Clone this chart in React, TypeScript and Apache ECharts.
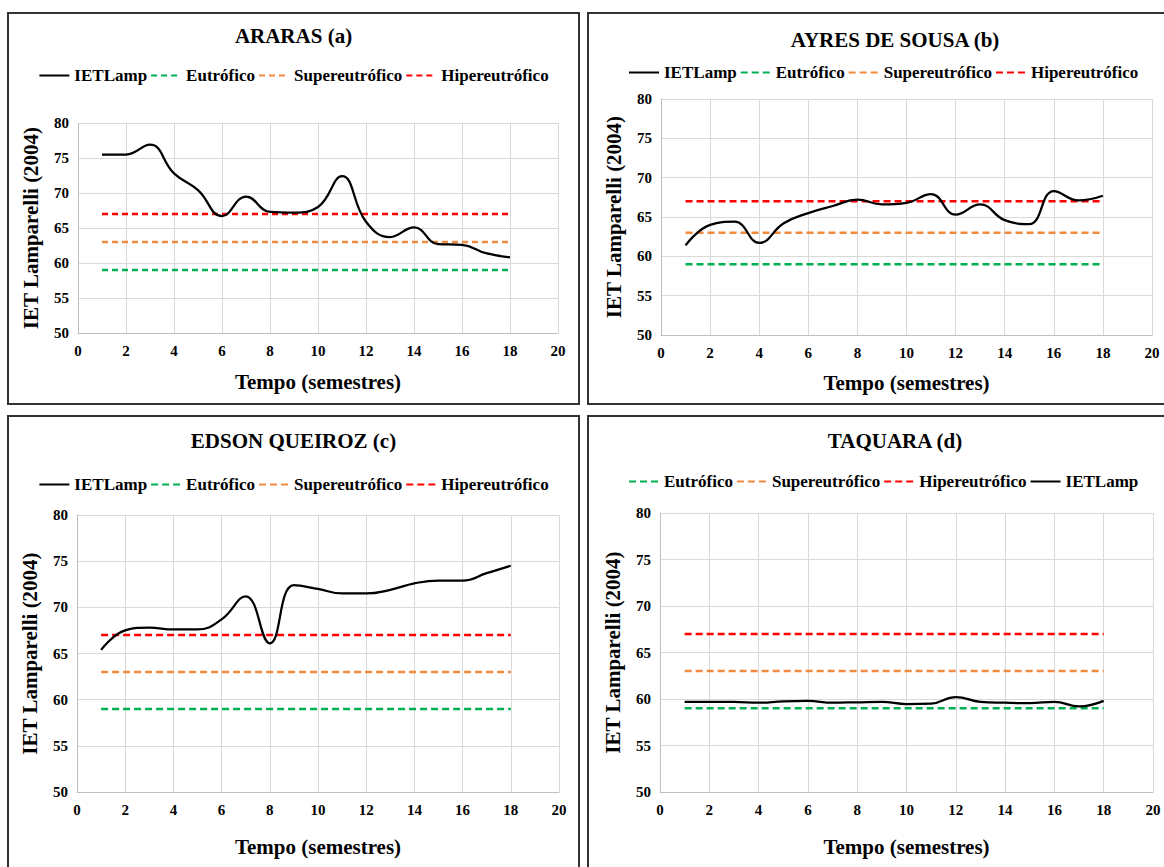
import React, { useEffect, useRef } from "react";
import * as echarts from "echarts";

// ---- Data ----
const semesters = [1, 2, 3, 4, 5, 6, 7, 8, 9, 10, 11, 12, 13, 14, 15, 16, 17, 18];
const ararasIET = [75.5, 75.5, 76.9, 72.8, 70.4, 66.7, 69.5, 67.3, 67.2, 68.0, 72.4, 65.9, 63.7, 65.1, 62.7, 62.6, 61.4, 60.8];
const ayresIET = [61.4, 64.0, 64.4, 61.7, 64.2, 65.5, 66.4, 67.2, 66.6, 66.8, 67.9, 65.3, 66.6, 64.6, 64.1, 68.3, 67.1, 67.7];
const edsonIET = [65.4, 67.5, 67.8, 67.6, 67.6, 68.7, 71.2, 66.1, 72.4, 72.0, 71.5, 71.5, 71.9, 72.6, 72.9, 72.9, 73.7, 74.5];
const taquaraIET = [59.7, 59.7, 59.7, 59.6, 59.75, 59.8, 59.6, 59.65, 59.7, 59.45, 59.5, 60.2, 59.7, 59.6, 59.55, 59.7, 59.2, 59.8];

const thresholdNames = ["Eutrófico", "Supereutrófico", "Hipereutrófico"];
const thresholdValues = [59, 63, 67];
const thresholdColors = ["#00B050", "#F08A3E", "#FF0000"];

const xTicks = { min: 0, max: 20, interval: 2 };
const yTicks = { min: 50, max: 80, interval: 5 };

const FONT = "'Liberation Serif', 'Times New Roman', serif";

type Panel = {
  title: string;
  values: number[];
  legendOrder: string[];
  box: { left: number; top: number; width: number; height: number };
  grid: { left: number; right: number; top: number; bottom: number };
  titleTop: number;
  legendTop: number;
  legendLeft: number | string;
  xNameGap: number;
  dash: number[];
};

const panels: Panel[] = [
  {
    title: "ARARAS (a)",
    values: ararasIET,
    legendOrder: ["IETLamp", "Eutrófico", "Supereutrófico", "Hipereutrófico"],
    box: { left: 7, top: 12, width: 573, height: 393 },
    grid: { left: 71, right: 22, top: 111, bottom: 72 },
    titleTop: 8,
    legendTop: 50,
    legendLeft: "center",
    xNameGap: 38,
    dash: [6, 4],
  },
  {
    title: "AYRES DE SOUSA (b)",
    values: ayresIET,
    legendOrder: ["IETLamp", "Eutrófico", "Supereutrófico", "Hipereutrófico"],
    box: { left: 587, top: 12, width: 616, height: 393 },
    grid: { left: 74, right: 51, top: 87, bottom: 70 },
    titleTop: 12,
    legendTop: 47,
    legendLeft: 36,
    xNameGap: 37,
    dash: [7, 4],
  },
  {
    title: "EDSON QUEIROZ (c)",
    values: edsonIET,
    legendOrder: ["IETLamp", "Eutrófico", "Supereutrófico", "Hipereutrófico"],
    box: { left: 7, top: 415, width: 573, height: 470 },
    grid: { left: 70, right: 21, top: 100, bottom: 93 },
    titleTop: 10,
    legendTop: 56,
    legendLeft: "center",
    xNameGap: 44,
    dash: [7, 4],
  },
  {
    title: "TAQUARA (d)",
    values: taquaraIET,
    legendOrder: ["Eutrófico", "Supereutrófico", "Hipereutrófico", "IETLamp"],
    box: { left: 587, top: 415, width: 616, height: 470 },
    grid: { left: 73, right: 50, top: 98, bottom: 93 },
    titleTop: 10,
    legendTop: 53,
    legendLeft: 36,
    xNameGap: 44,
    dash: [7, 4],
  },
];

function buildOption(p: Panel) {
  const ietSeries = {
    name: "IETLamp",
    type: "line",
    data: semesters.map((x, i) => [x, p.values[i]]),
    smooth: 0.45,
    symbol: "none",
    lineStyle: { color: "#000", width: 2.25 },
    itemStyle: { color: "#000" },
    z: 3,
  };
  const thrSeries = thresholdNames.map((name, k) => ({
    name,
    type: "line",
    data: [
      [semesters[0], thresholdValues[k]],
      [semesters[semesters.length - 1], thresholdValues[k]],
    ],
    symbol: "none",
    lineStyle: { color: thresholdColors[k], width: 2.5, type: p.dash },
    itemStyle: { color: thresholdColors[k] },
    z: 2,
  }));
  const seriesByName: Record<string, any> = { IETLamp: ietSeries };
  thrSeries.forEach((s) => (seriesByName[s.name] = s));
  const series = p.legendOrder.map((n) => seriesByName[n]);

  const labelStyle = { fontFamily: FONT, fontWeight: "bold", fontSize: 15, color: "#000" };
  const nameStyle = { fontFamily: FONT, fontWeight: "bold", fontSize: 21, color: "#000" };

  return {
    animation: false,
    backgroundColor: "#fff",
    title: {
      text: p.title,
      left: "center",
      top: p.titleTop,
      textStyle: { fontFamily: FONT, fontWeight: "bold", fontSize: 21, color: "#000" },
    },
    legend: {
      data: p.legendOrder,
      top: p.legendTop,
      left: p.legendLeft,
      itemWidth: 30,
      itemHeight: 14,
      itemGap: 3,
      itemStyle: { opacity: 0 },
      textStyle: { fontFamily: FONT, fontWeight: "bold", fontSize: 17, color: "#000" },
    },
    grid: { ...p.grid },
    xAxis: {
      type: "value",
      min: xTicks.min,
      max: xTicks.max,
      interval: xTicks.interval,
      axisLine: { show: true, lineStyle: { color: "#bfbfbf", width: 1 } },
      axisTick: { show: false },
      splitLine: { show: true, lineStyle: { color: "#d9d9d9", width: 1 } },
      axisLabel: { ...labelStyle, margin: 10 },
      name: "Tempo (semestres)",
      nameLocation: "middle",
      nameGap: p.xNameGap,
      nameTextStyle: nameStyle,
    },
    yAxis: {
      type: "value",
      min: yTicks.min,
      max: yTicks.max,
      interval: yTicks.interval,
      axisLine: { show: true, lineStyle: { color: "#bfbfbf", width: 1 } },
      axisTick: { show: false },
      splitLine: { show: true, lineStyle: { color: "#d9d9d9", width: 1 } },
      axisLabel: { ...labelStyle, margin: 9 },
      name: "IET Lamparelli (2004)",
      nameLocation: "middle",
      nameGap: 37,
      nameTextStyle: nameStyle,
    },
    series,
  };
}

function ChartPanel({ p }: { p: Panel }) {
  const ref = useRef<HTMLDivElement>(null);
  useEffect(() => {
    if (!ref.current) return;
    const chart = echarts.init(ref.current, undefined, { renderer: "svg" });
    chart.setOption(buildOption(p) as any);
    return () => chart.dispose();
  }, [p]);
  return (
    <div
      style={{
        position: "absolute",
        left: p.box.left,
        top: p.box.top,
        width: p.box.width,
        height: p.box.height,
      }}
    >
      <div ref={ref} style={{ position: "absolute", left: 0, top: 0, width: p.box.width, height: p.box.height }} />
      <div
        style={{
          position: "absolute",
          left: 0,
          top: 0,
          width: p.box.width,
          height: p.box.height,
          boxSizing: "border-box",
          border: "2px solid #333",
          pointerEvents: "none",
        }}
      />
    </div>
  );
}

export default function App() {
  return (
    <div
      style={{
        position: "fixed",
        left: 0,
        top: 0,
        width: 1164,
        height: 867,
        overflow: "hidden",
        background: "#fff",
      }}
    >
      {panels.map((p) => (
        <ChartPanel key={p.title} p={p} />
      ))}
    </div>
  );
}
